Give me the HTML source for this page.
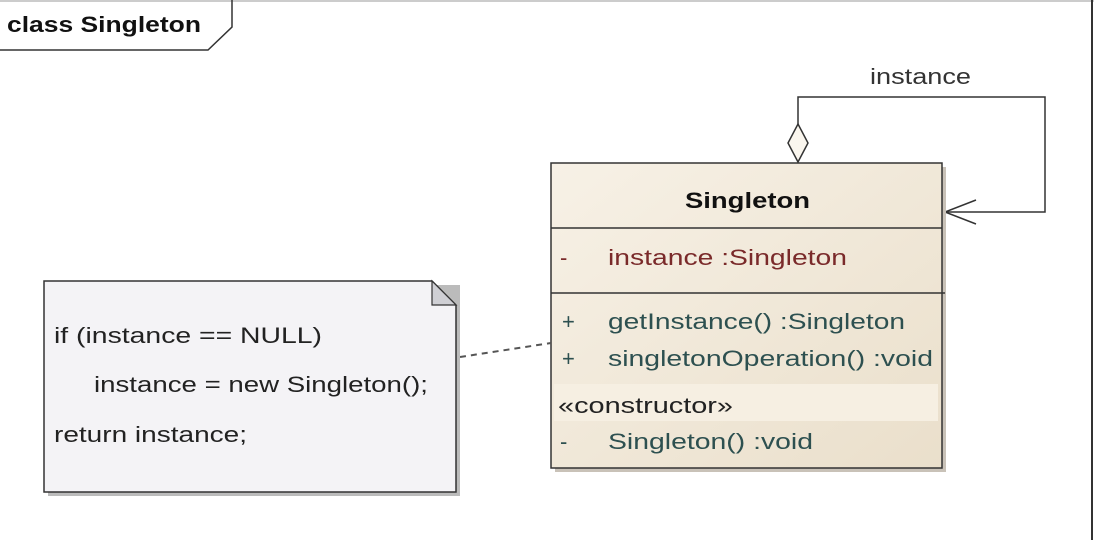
<!DOCTYPE html>
<html><head><meta charset="utf-8"><style>
html,body{margin:0;padding:0;background:#fff;}
svg{display:block;}
text{font-family:"Liberation Sans",sans-serif;}
</style></head><body>
<svg width="1094" height="540" viewBox="0 0 1094 540" xmlns="http://www.w3.org/2000/svg">
<defs>
<linearGradient id="g" x1="0" y1="0" x2="1" y2="1">
<stop offset="0" stop-color="#f7f1e6"/><stop offset="1" stop-color="#eadfcb"/>
</linearGradient>
</defs>
<rect x="0" y="0" width="1094" height="540" fill="#fff"/>
<line x1="0" y1="1" x2="1094" y2="1" stroke="#999" stroke-width="1"/>
<line x1="1092" y1="0" x2="1092" y2="540" stroke="#333" stroke-width="2"/>
<polyline points="0,50 208,50 232,27 232,0" fill="none" stroke="#333" stroke-width="1.5"/>
<text x="7" y="32" font-size="22" font-weight="bold" fill="#111" textLength="194" lengthAdjust="spacingAndGlyphs">class Singleton</text>

<!-- association -->
<text x="870" y="84" font-size="22" fill="#333" textLength="101" lengthAdjust="spacingAndGlyphs">instance</text>
<polyline points="798,124 798,97 1045,97 1045,212 944,212" fill="none" stroke="#333" stroke-width="1.5"/>
<polygon points="798,124 808,143 798,162 788,143" fill="#faf6ee" stroke="#333" stroke-width="1.5"/>
<polyline points="976,200 945,212 976,224" fill="none" stroke="#333" stroke-width="1.5"/>

<!-- class box -->
<rect x="555" y="167" width="391" height="305" fill="#c9c2b8"/>
<rect x="551" y="163" width="391" height="305" fill="url(#g)" stroke="#333" stroke-width="1.5"/>
<rect x="554" y="384" width="384" height="37" fill="#f6efe2"/>
<line x1="551" y1="228" x2="942" y2="228" stroke="#333" stroke-width="1.5"/>
<line x1="551" y1="293" x2="945" y2="293" stroke="#333" stroke-width="1.5"/>
<text x="685" y="208" font-size="22" font-weight="bold" fill="#111" textLength="125" lengthAdjust="spacingAndGlyphs">Singleton</text>
<g font-size="22" lengthAdjust="spacingAndGlyphs">
<text x="560" y="265" fill="#7a2a2a">-</text>
<text x="608" y="265" fill="#7a2a2a" textLength="239" lengthAdjust="spacingAndGlyphs">instance  :Singleton</text>
<text x="562" y="329" fill="#2d5050">+</text>
<text x="608" y="329" fill="#2d5050" textLength="297" lengthAdjust="spacingAndGlyphs">getInstance()  :Singleton</text>
<text x="562" y="366" fill="#2d5050">+</text>
<text x="608" y="366" fill="#2d5050" textLength="325" lengthAdjust="spacingAndGlyphs">singletonOperation()  :void</text>
<text x="558" y="413" fill="#222" textLength="175" lengthAdjust="spacingAndGlyphs">«constructor»</text>
<text x="560" y="449" fill="#2d5050">-</text>
<text x="608" y="449" fill="#2d5050" textLength="205" lengthAdjust="spacingAndGlyphs">Singleton()  :void</text>
</g>

<!-- note -->
<line x1="460" y1="357" x2="551" y2="343" stroke="#555" stroke-width="2" stroke-dasharray="6,5"/>
<polygon points="48,285 460,285 460,496 48,496" fill="#bbb"/>
<polygon points="44,281 432,281 456,305 456,492 44,492" fill="#f4f3f6" stroke="#333" stroke-width="1.5"/>
<polygon points="432,281 432,305 456,305" fill="#cfcfd4" stroke="#333" stroke-width="1.2"/>
<g font-size="22" fill="#222">
<text x="54" y="343" textLength="268" lengthAdjust="spacingAndGlyphs">if (instance == NULL)</text>
<text x="94" y="392" textLength="334" lengthAdjust="spacingAndGlyphs">instance = new Singleton();</text>
<text x="54" y="442" textLength="193" lengthAdjust="spacingAndGlyphs">return instance;</text>
</g>
</svg>
</body></html>
